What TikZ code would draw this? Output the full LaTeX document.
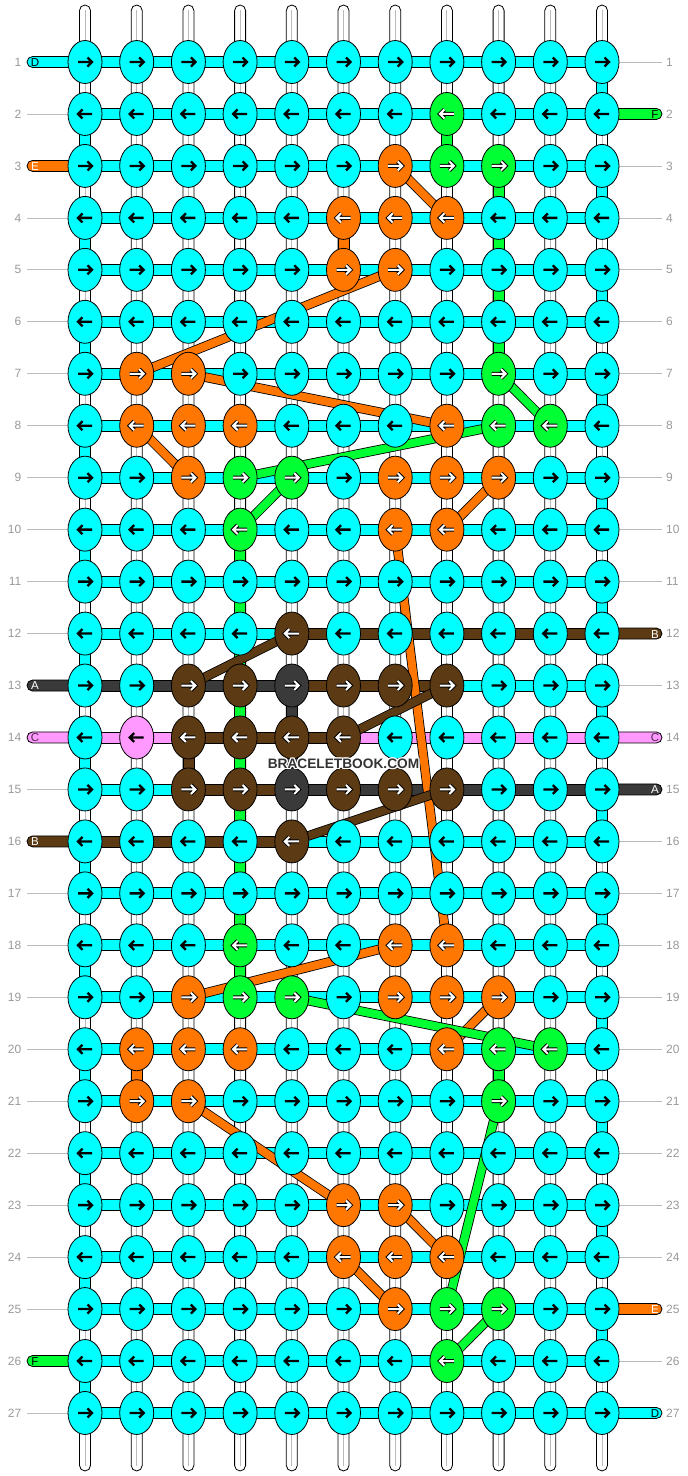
\documentclass[tikz,border=0pt]{standalone}
\usepackage{fontspec}
\setmainfont{Liberation Sans}
\usetikzlibrary{calc,shapes.geometric}

\definecolor{bbcyan}{HTML}{00FFFF}
\definecolor{bborange}{HTML}{FF7700}
\definecolor{bbgreen}{HTML}{00FF33}
\definecolor{bbbrown}{HTML}{5C3A13}
\definecolor{bbdark}{HTML}{3A3A3A}
\definecolor{bbpink}{HTML}{FF99FF}
\definecolor{bbplum}{HTML}{4D2D4D}
\definecolor{bbgrey}{HTML}{999999}
\definecolor{bbline}{HTML}{BBBBBB}
\definecolor{bbmark}{HTML}{333333}

\tikzset{
  knot/.style={ellipse,draw=black,line width=0.8pt,minimum width=34pt,minimum height=43pt,inner sep=0pt,outer sep=0pt},
  strand/.style={draw=black,fill=white,line width=0.8pt,rounded corners=5.5pt},
  core/.style={draw=bbline,line width=0.9pt},
  bar/.style={draw=black,line width=0.8pt},
  tab/.style={draw=black,line width=0.8pt,rounded corners=5.5pt},
  lead/.style={draw=bbline,line width=0.7pt},
  rowno/.style={text=bbgrey,font=\fontsize{12}{12}\selectfont,inner sep=0pt},
  tagtext/.style={font=\fontsize{11.5}{11.5}\selectfont,inner sep=0pt},
  thread/.style={draw=black,line width=0.8pt,double=#1,double distance=8pt},
  arrowink/.style={draw=black,line width=2.3pt},
  arrowedge/.style={draw=black,line width=4pt},
  arrowfill/.style={draw=white,line width=2pt},
  wmtext/.style={text=bbmark,font=\bfseries\fontsize{13.7}{14}\selectfont,inner sep=0pt},
  pics/goright/.style={code={\path[#1] (-7,0) -- (7,0) (2.5,-4.5) -- (7,0) -- (2.5,4.5);}},
}

\newcommand\knotcolour[3]{\foreach \p in {#3}{%
  \expandafter\xdef\csname kc@\p\endcsname{#1}%
  \expandafter\xdef\csname ka@\p\endcsname{#2}}}
\newcommand\barcolour[2]{\foreach \p in {#2}{%
  \expandafter\xdef\csname hs@\p\endcsname{#1}}}
\def\lighttag{light}
\newcommand\haloword[1]{\leavevmode
  \rlap{\kern-1.2pt\textcolor{white}{#1}}\rlap{\kern1.2pt\textcolor{white}{#1}}%
  \rlap{\raisebox{1.2pt}{\textcolor{white}{#1}}}\rlap{\raisebox{-1.2pt}{\textcolor{white}{#1}}}%
  \rlap{\kern-1pt\raisebox{1pt}{\textcolor{white}{#1}}}\rlap{\kern1pt\raisebox{1pt}{\textcolor{white}{#1}}}%
  \rlap{\kern-1pt\raisebox{-1pt}{\textcolor{white}{#1}}}\rlap{\kern1pt\raisebox{-1pt}{\textcolor{white}{#1}}}%
  #1}

\knotcolour{bborange}{light}{3-7,4-6,4-7,4-8,5-6,5-7,7-2,7-3,8-2,8-3,8-4,8-8,9-3,9-7,9-8,9-9,10-7,10-8,
  18-7,18-8,19-3,19-7,19-8,19-9,20-2,20-3,20-4,20-8,21-2,21-3,23-6,23-7,24-6,24-7,24-8,25-7}
\knotcolour{bbgreen}{light}{2-8,3-8,3-9,7-9,8-9,8-10,9-4,9-5,10-4,18-4,19-4,19-5,20-9,20-10,21-9,25-8,25-9,26-8}
\knotcolour{bbbrown}{light}{12-5,13-3,13-4,13-6,13-7,13-8,14-3,14-4,14-5,14-6,15-3,15-4,15-6,15-7,15-8,16-5}
\knotcolour{bbdark}{light}{13-5,15-5}
\knotcolour{bbpink}{ink}{14-2}

\barcolour{bbbrown}{12-5,12-6,12-7,12-8,12-9,12-10,13-5,13-6,13-7,14-3,14-4,14-5,15-3,15-4,16-1,16-2,16-3,16-4}
\barcolour{bbdark}{13-1,13-2,13-3,13-4,15-5,15-6,15-7,15-8,15-9,15-10}
\barcolour{bbpink}{14-1,14-2,14-6,14-7,14-8,14-9,14-10}

\begin{document}
\begin{tikzpicture}[x=1pt,y=-1pt]
\useasboundingbox (0,0) rectangle (688,1476);

\foreach \r in {1,...,27}{
  \foreach \c in {1,...,11}{
    \coordinate (k-\r-\c) at ({85+(\c-1)*51.7},{62+(\r-1)*51.96});
  }
}

% base strings
\foreach \c in {1,...,11}{
  \draw[strand] ($(k-1-\c)+(-5.5,-57)$) rectangle ($(k-27-\c)+(5.5,58)$);
  \draw[core] ($(k-1-\c)+(0,-52)$) -- ($(k-27-\c)+(0,53)$);
}

% colour between rows
\foreach \r in {2,4,...,26}{
  \pgfmathtruncatemacro\rn{\r+1}
  \draw[bar,fill=bbcyan] ($(k-\r-1)+(-5.5,0)$) rectangle ($(k-\rn-1)+(5.5,0)$);
}
\foreach \r in {1,3,...,25}{
  \pgfmathtruncatemacro\rn{\r+1}
  \draw[bar,fill=bbcyan] ($(k-\r-11)+(-5.5,0)$) rectangle ($(k-\rn-11)+(5.5,0)$);
}
\foreach \c/\r/\col in {8/2/bbgreen,9/3/bbgreen,9/4/bbgreen,9/5/bbgreen,9/6/bbgreen,6/4/bborange,
    4/10/bbgreen,4/11/bbgreen,4/12/bbgreen,4/13/bbgreen,4/14/bbgreen,4/15/bbgreen,4/16/bbgreen,4/17/bbgreen,4/18/bbgreen,
    3/14/bbbrown,5/13/bbdark,5/14/bbdark,2/20/bborange,9/20/bbgreen}{
  \pgfmathtruncatemacro\rn{\r+1}
  \draw[bar,fill=\col] ($(k-\r-\c)+(-5.5,0)$) rectangle ($(k-\rn-\c)+(5.5,0)$);
}

% rows
\foreach \r in {1,...,27}{
  \foreach \c in {1,...,10}{
    \pgfmathtruncatemacro\cn{\c+1}
    \ifcsname hs@\r-\c\endcsname\edef\hcol{\csname hs@\r-\c\endcsname}\else\def\hcol{bbcyan}\fi
    \draw[bar,fill=\hcol] ($(k-\r-\c)+(0,-5.5)$) rectangle ($(k-\r-\cn)+(0,5.5)$);
  }
}

% ends
\foreach \r/\col/\txt/\tc in {1/bbcyan/D/black,3/bborange/E/white,13/bbdark/A/white,
    14/bbpink/C/bbplum,16/bbbrown/B/white,26/bbgreen/F/black}{
  \draw[tab,fill=\col] ($(k-\r-1)+(-58,-5.5)$) rectangle ($(k-\r-1)+(0,5.5)$);
  \node[tagtext,text=\tc] (tl-\r) at ($(k-\r-1)+(-50,0.5)$) {\txt};
}
\foreach \r/\col/\txt/\tc in {2/bbgreen/F/black,12/bbbrown/B/white,14/bbpink/C/bbplum,
    15/bbdark/A/white,25/bborange/E/white,27/bbcyan/D/black}{
  \draw[tab,fill=\col] ($(k-\r-11)+(0,-5.5)$) rectangle ($(k-\r-11)+(60,5.5)$);
  \node[tagtext,text=\tc] (tr-\r) at ($(k-\r-11)+(53,0.5)$) {\txt};
}
\foreach \r in {2,4,5,6,7,8,9,10,11,12,15,17,18,19,20,21,22,23,24,25,27}{
  \draw[lead] ($(k-\r-1)+(-58,0)$) -- (k-\r-1);
}
\foreach \r in {1,3,4,5,6,7,8,9,10,11,13,16,17,18,19,20,21,22,23,24,26}{
  \draw[lead] (k-\r-11) -- ($(k-\r-11)+(60,0)$);
}
\foreach \r in {1,...,27}{
  \node[rowno,anchor=east] (ln-\r) at ($(k-\r-1)+(-63.5,0)$) {\r};
  \node[rowno,anchor=west] (rn-\r) at ($(k-\r-11)+(64,0)$) {\r};
}

% threads carried behind
\foreach \a/\b in {10-7/18-8,3-7/4-8,5-7/7-2,7-3/8-8,8-2/9-3,9-9/10-8,19-3/18-7,19-9/20-8,21-3/23-6,23-7/24-8,24-6/25-7}{
  \draw[thread=bborange] (k-\a) -- (k-\b);
}
\foreach \a/\b in {7-9/8-10,8-9/9-4,9-5/10-4,19-5/20-10,21-9/25-8,25-9/26-8}{
  \draw[thread=bbgreen] (k-\a) -- (k-\b);
}
\foreach \a/\b in {13-3/12-5,14-6/13-8,16-5/15-8}{
  \draw[thread=bbbrown] (k-\a) -- (k-\b);
}

% knots
\foreach \r in {1,...,27}{
  \foreach \c in {1,...,11}{
    \ifcsname kc@\r-\c\endcsname\edef\kcol{\csname kc@\r-\c\endcsname}\else\def\kcol{bbcyan}\fi
    \ifodd\r\relax\def\dir{1}\else\def\dir{-1}\fi
    \node[knot,fill=\kcol] (n-\r-\c) at (k-\r-\c) {};
    \ifcsname ka@\r-\c\endcsname\edef\kink{\csname ka@\r-\c\endcsname}\else\def\kink{ink}\fi
    \ifx\kink\lighttag
      \pic[xscale=\dir] at (n-\r-\c) {goright=arrowedge};
      \pic[xscale=\dir] at (n-\r-\c) {goright=arrowfill};
    \else
      \pic[xscale=\dir] at (n-\r-\c) {goright=arrowink};
    \fi
  }
}

\node[wmtext] (wm) at ($(k-14-6)+(0,26)$) {\haloword{BRACELETBOOK.COM}};
\end{tikzpicture}
\end{document}
